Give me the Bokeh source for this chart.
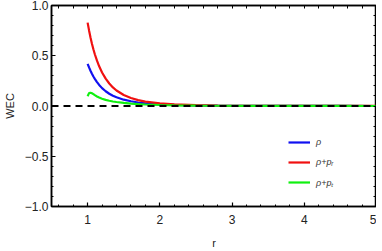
import numpy as np
from bokeh.plotting import figure
from bokeh.models import (Range1d, Span, Legend, LegendItem, LinearAxis,
                          SingleIntervalTicker, FixedTicker, CustomJSTickFormatter)
from bokeh.embed import file_html
from bokeh.resources import INLINE

r_vals = [1.00, 1.02, 1.04, 1.06, 1.08, 1.10, 1.13, 1.16, 1.20, 1.25, 1.30, 1.35,
          1.40, 1.50, 1.60, 1.70, 1.80, 2.00, 2.20, 2.50, 2.80, 3.20, 3.60, 4.00,
          4.50, 5.00]
rho = [0.420, 0.384, 0.351, 0.321, 0.294, 0.270, 0.238, 0.210, 0.178, 0.147,
       0.122, 0.102, 0.087, 0.063, 0.047, 0.035, 0.027, 0.017, 0.011, 0.006,
       0.0035, 0.002, 0.0012, 0.0007, 0.0004, 0.0002]
rho_pr = [0.830, 0.752, 0.682, 0.620, 0.565, 0.515, 0.451, 0.395, 0.334, 0.272,
          0.224, 0.185, 0.154, 0.109, 0.079, 0.058, 0.044, 0.026, 0.016, 0.0085,
          0.0048, 0.0025, 0.0014, 0.0008, 0.0005, 0.0003]
rho_pt = [0.098, 0.128, 0.132, 0.127, 0.118, 0.108, 0.095, 0.084, 0.072, 0.061,
          0.052, 0.045, 0.040, 0.031, 0.024, 0.019, 0.015, 0.010, 0.007, 0.004,
          0.0025, 0.0015, 0.001, 0.0006, 0.0004, 0.0002]

labels = ["\u03c1", "\u03c1+p\u1d63", "\u03c1+p\u209c"]
colors = ["#1010f0", "#f01010", "#10f010"]

FONT = "Liberation Sans"

p = figure(frame_width=325, frame_height=201, output_backend="svg", toolbar_location=None,
           x_range=Range1d(0.5, 5), y_range=Range1d(-1, 1),
           min_border_left=0, min_border_right=0, min_border_top=5,
           min_border_bottom=0, x_axis_label="r", y_axis_label="WEC")
p.xgrid.visible = False
p.ygrid.visible = False
p.outline_line_color = "black"
p.outline_line_width = 1.5
p.background_fill_color = "white"
p.border_fill_color = "white"

fmt = CustomJSTickFormatter(code="return tick.toFixed(1).replace('-', '\\u2212');")
fmt_x = CustomJSTickFormatter(code="return tick.toFixed(0);")

def style_axis(ax):
    ax.axis_line_color = "black"
    ax.axis_line_width = 1.5
    ax.major_tick_in = 4
    ax.major_tick_out = 0
    ax.minor_tick_in = 2
    ax.minor_tick_out = 0
    ax.major_tick_line_width = 1.2
    ax.minor_tick_line_width = 1
    ax.major_label_text_font = FONT
    ax.major_label_text_font_size = "12px"
    ax.major_label_text_color = "#222222"
    ax.axis_label_text_font = FONT
    ax.axis_label_text_font_size = "11px"
    ax.axis_label_text_font_style = "normal"
    ax.axis_label_text_color = "#222222"

p.xaxis.ticker = SingleIntervalTicker(interval=1, num_minor_ticks=5)
p.yaxis.ticker = SingleIntervalTicker(interval=0.5, num_minor_ticks=5)
p.xaxis.formatter = fmt_x
p.yaxis.formatter = fmt
style_axis(p.xaxis[0])
style_axis(p.yaxis[0])
p.xaxis.major_label_standoff = 8
p.xaxis.axis_label_standoff = 10
p.yaxis.major_label_standoff = 3
p.yaxis.axis_label_standoff = 6

top_ticks = [float(v) for v in np.round(np.arange(0.6, 5.0, 0.2), 1)]
right_ticks = [float(v) for v in np.round(np.arange(-0.9, 0.95, 0.1), 1)]
for ticks, side in [(top_ticks, "above"), (right_ticks, "right")]:
    ax = LinearAxis(ticker=FixedTicker(ticks=[], minor_ticks=ticks))
    ax.axis_line_color = "black"
    ax.axis_line_width = 1.5
    ax.minor_tick_in = 3
    ax.minor_tick_out = 0
    ax.minor_tick_line_width = 1
    ax.major_label_standoff = 0
    p.add_layout(ax, side)

p.add_layout(Span(location=0, dimension="width", line_color="black",
                  line_width=2, line_dash="7 5"))

renderers = []
for ys, c in zip([rho, rho_pr, rho_pt], colors):
    renderers.append(p.line(r_vals, ys, line_color=c, line_width=2.2))

legend = Legend(items=[LegendItem(label=l, renderers=[r]) for l, r in zip(labels, renderers)],
                location=(237, 14), background_fill_alpha=0, border_line_alpha=0,
                padding=0, margin=0, spacing=0, label_height=20, glyph_height=20,
                glyph_width=22, label_standoff=6,
                label_text_font=FONT, label_text_font_size="9px",
                label_text_font_style="italic", label_text_color="#333333")
p.add_layout(legend)

open("out.html", "w").write(file_html(p, INLINE))
